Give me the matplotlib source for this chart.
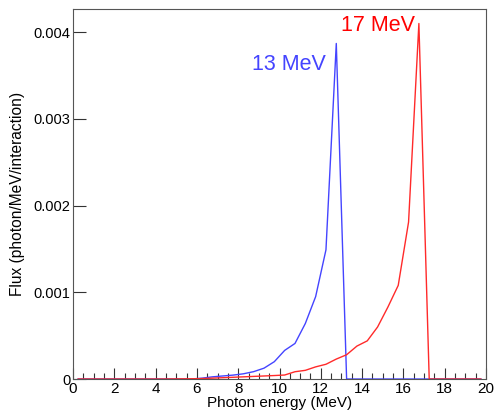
import matplotlib
matplotlib.use("Agg")
import matplotlib.pyplot as plt
from matplotlib.ticker import MultipleLocator, FixedLocator, FixedFormatter

plt.rcParams['font.family'] = ['Liberation Sans', 'DejaVu Sans']

energy = [0.25, 0.75, 1.25, 1.75, 2.25, 2.75, 3.25, 3.75, 4.25, 4.75,
          5.25, 5.75, 6.25, 6.75, 7.25, 7.75, 8.25, 8.75, 9.25, 9.75,
          10.25, 10.75, 11.25, 11.75, 12.25, 12.75, 13.25, 13.75, 14.25, 14.75,
          15.25, 15.75, 16.25, 16.75, 17.25, 17.75, 18.25, 18.75, 19.25, 19.75]

flux_13 = [0, 0, 0, 0, 0, 0, 0, 0, 0, 0,
           0, 0, 0.000010, 0.000025, 0.000035, 0.000045, 0.000060, 0.000085, 0.000125, 0.000200,
           0.000330, 0.000410, 0.000640, 0.000950, 0.001490, 0.003870, 0, 0, 0, 0,
           0, 0, 0, 0, 0, 0, 0, 0, 0, 0]

flux_17 = [0, 0, 0, 0, 0, 0, 0, 0, 0, 0.000001,
           0.000002, 0.000003, 0.000005, 0.000010, 0.000015, 0.000020, 0.000025, 0.000030, 0.000035, 0.000040,
           0.000046, 0.000084, 0.000100, 0.000140, 0.000170, 0.000230, 0.000280, 0.000380, 0.000440, 0.000600,
           0.000830, 0.001080, 0.001810, 0.004100, 0, 0, 0, 0, 0, 0]

y_ticks = [0, 0.001, 0.002, 0.003, 0.004]
y_tick_labels = ['0', '0.001', '0.002', '0.003', '0.004']

blue = '#4444ff'
red = '#ff2a2a'

fig = plt.figure(figsize=(5.0, 4.13), dpi=100)
ax = fig.add_axes([0.146, 0.0823, 0.826, 0.8952])

ax.plot(energy, flux_13, color=blue, lw=1.0)
ax.plot(energy, flux_17, color=red, lw=1.0)

ax.set_xlim(0, 20)
ax.set_ylim(0, 0.004264)

ax.xaxis.set_major_locator(MultipleLocator(2))
ax.xaxis.set_minor_locator(MultipleLocator(0.5))
ax.yaxis.set_major_locator(FixedLocator(y_ticks))
ax.yaxis.set_major_formatter(FixedFormatter(y_tick_labels))
ax.yaxis.set_minor_locator(FixedLocator([]))

ax.tick_params(axis='x', which='major', direction='in', length=8, width=0.8,
               color='#333333', labelsize=11, pad=2)
ax.tick_params(axis='x', which='minor', direction='in', length=4, width=0.8,
               color='#333333')
ax.tick_params(axis='y', which='major', direction='in', length=9, width=0.8,
               color='#333333', labelsize=10.5, pad=2)

for s in ax.spines.values():
    s.set_color('#555555')
    s.set_linewidth(0.8)

ax.set_xlabel('Photon energy (MeV)', fontsize=11, labelpad=0)
ax.set_ylabel('Flux (photon/MeV/interaction)', fontsize=11.2, labelpad=6)

ax.text(8.68, 0.00363, '13 MeV', color=blue, fontsize=15.5, ha='left', va='center')
ax.text(13.0, 0.00408, '17 MeV', color='#ff0000', fontsize=15.5, ha='left', va='center')

fig.savefig('out.png', dpi=100)
